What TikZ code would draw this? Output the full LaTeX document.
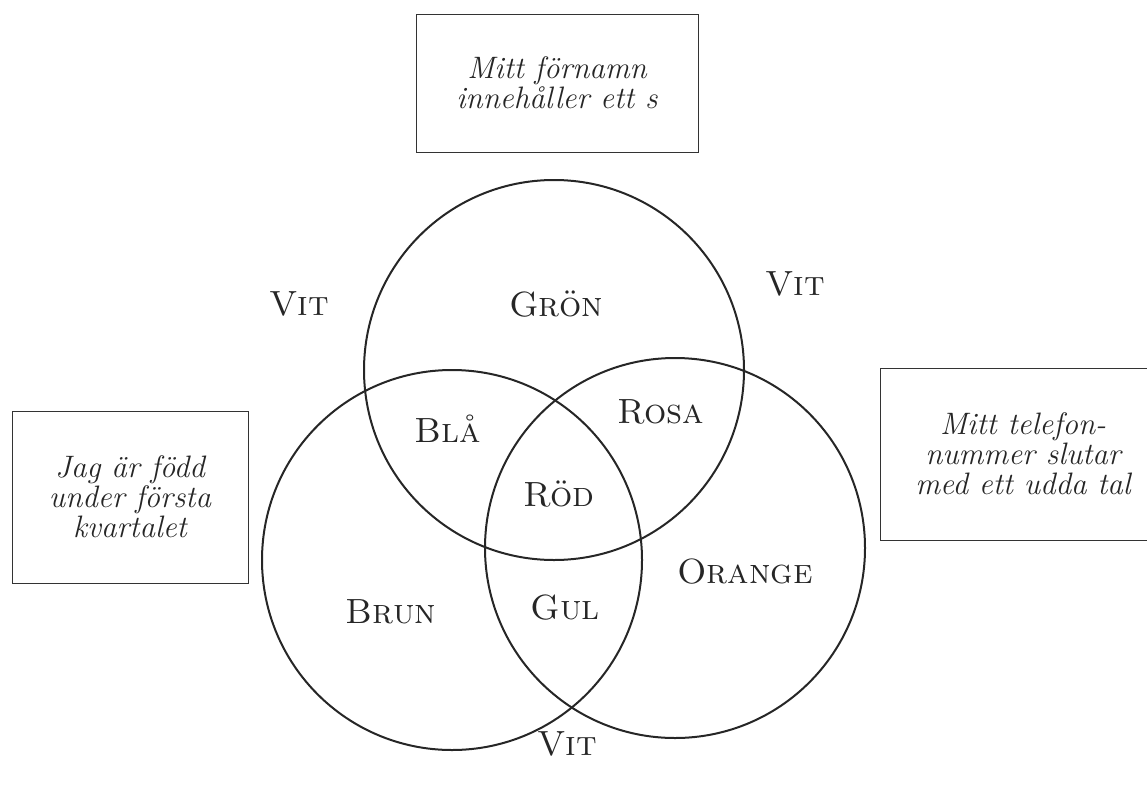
\documentclass[tikz,border=0pt]{standalone}
\usepackage{fontspec}
\begin{document}
\begin{tikzpicture}[x=1pt,y=-1pt,
  setc/.style={circle,draw=black!85,line width=2pt,minimum size=380pt,inner sep=0pt},
  lbl/.style={font=\fontsize{35}{40}\selectfont\scshape,text=black!85},
  cbox/.style={draw=black!80,line width=1pt,align=center,inner sep=0pt,
    font=\fontsize{31}{30}\selectfont\itshape,text=black!85}]
\useasboundingbox (0,0) rectangle (1147,787);
\node[setc] (ctop) at (554,370) {};
\node[setc] (cleft) at (452,560) {};
\node[setc] (cright) at (675,548) {};
\node[cbox,minimum width=282pt,minimum height=138pt] (btop) at (557,83) {Mitt förnamn\\innehåller ett s};
\node[cbox,minimum width=236pt,minimum height=172pt] (bleft) at (130,497) {Jag är född\\under första\\kvartalet};
\node[cbox,minimum width=286pt,minimum height=172pt] (bright) at (1023,454) {Mitt telefon-\\nummer slutar\\med ett udda tal};
\node[lbl] (vit1) at (299,304) {Vit};
\node[lbl] (vit2) at (795,284) {Vit};
\node[lbl] (vit3) at (567,744) {Vit};
\node[lbl] (gron) at (556,304) {Grön};
\node[lbl] (bla) at (448,429) {Blå};
\node[lbl] (rosa) at (661,412) {Rosa};
\node[lbl] (rod) at (559,494) {Röd};
\node[lbl] (orange) at (745,572) {Orange};
\node[lbl] (brun) at (391,612) {Brun};
\node[lbl] (gul) at (565,608) {Gul};
\end{tikzpicture}
\end{document}
